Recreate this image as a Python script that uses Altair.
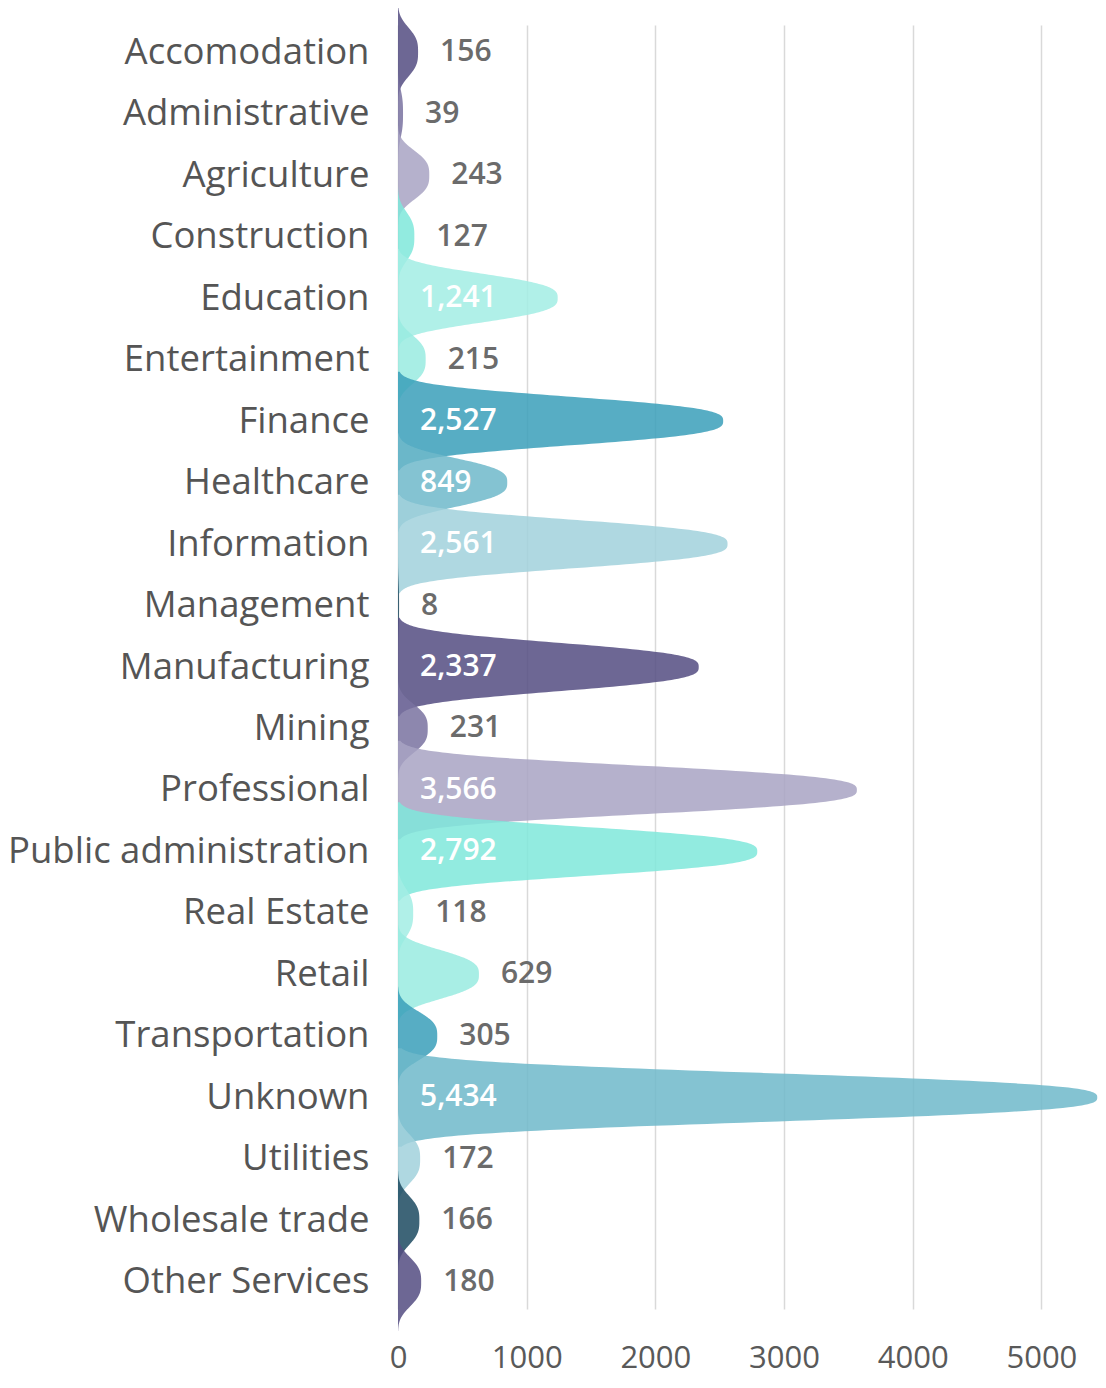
import json
import altair as alt
import pandas as pd

categories = [
    "Accomodation", "Administrative", "Agriculture", "Construction", "Education",
    "Entertainment", "Finance", "Healthcare", "Information", "Management",
    "Manufacturing", "Mining", "Professional", "Public administration", "Real Estate",
    "Retail", "Transportation", "Unknown", "Utilities", "Wholesale trade", "Other Services",
]
values = [156, 39, 243, 127, 1241, 215, 2527, 849, 2561, 8,
          2337, 231, 3566, 2792, 118, 629, 305, 5434, 172, 166, 180]
palette = ["#544c81", "#7972a0", "#a8a3c3", "#7fe7da", "#a2ede4",
           "#99ebe1", "#399fba", "#6eb8ca", "#a1d1dc", "#1c4a60"]
colors = [palette[i % len(palette)] for i in range(len(categories))]
x_ticks = [0, 1000, 2000, 3000, 4000, 5000]

df = pd.DataFrame({"category": categories, "value": values,
                   "idx": list(range(len(categories)))})

FONT = "Open Sans"
n = len(categories)
x_scale = alt.Scale(domain=[0, 5440], nice=False, zero=True)
y_scale = alt.Scale(domain=[-0.44, n - 1 + 0.44], reverse=True, nice=False, zero=False)

x_axis = alt.Axis(values=x_ticks, title=None, grid=True, gridColor="#d9d9d9", gridWidth=1.5,
                  domain=False, ticks=False, labelFont=FONT, labelFontSize=31,
                  labelColor="#595959", labelPadding=34, labelFlush=False, format="d")
y_axis = alt.Axis(values=list(range(n)), labelExpr=json.dumps(categories) + "[datum.value]",
                  title=None, grid=False, domain=False, ticks=False, labelFont=FONT,
                  labelFontSize=36.5, labelColor="#555555", labelPadding=29, labelOverlap=False,
                  labelLimit=420, labelBaseline="middle")

area = alt.Chart(df).transform_calculate(
    t="sequence(-0.8, 0.8001, 0.01)"
).transform_flatten(["t"]).transform_calculate(
    xx="datum.value * exp(-pow(abs(datum.t) / 0.46, 3))",
    yy="datum.idx + datum.t",
).mark_area(orient="horizontal", opacity=0.85).encode(
    x=alt.X("xx:Q", stack=None, scale=x_scale, axis=x_axis),
    y=alt.Y("yy:Q", scale=y_scale, axis=y_axis),
    color=alt.Color("category:N", scale=alt.Scale(domain=categories, range=colors), legend=None),
)

base_text = alt.Chart(df).transform_calculate(
    labx="datum.value >= 800 ? 0 : datum.value"
)
inside = base_text.transform_filter("datum.value >= 800").mark_text(
    align="left", baseline="middle", dx=22, font=FONT, fontSize=30, fontWeight=600, color="white"
).encode(
    x=alt.X("labx:Q", scale=x_scale),
    y=alt.Y("idx:Q", scale=y_scale),
    text=alt.Text("value:Q", format=","),
)
outside = base_text.transform_filter("datum.value < 800").mark_text(
    align="left", baseline="middle", dx=22, font=FONT, fontSize=30, fontWeight=600, color="#6b6b6b"
).encode(
    x=alt.X("labx:Q", scale=x_scale),
    y=alt.Y("idx:Q", scale=y_scale),
    text=alt.Text("value:Q", format=","),
)

chart = alt.layer(area, inside, outside).properties(
    width=700, height=1284,
    autosize=alt.AutoSizeParams(type="none"),
    padding={"left": 390, "top": 17, "right": 0, "bottom": 70},
).configure_view(stroke=None)

chart.save("out.html", embed_options={"renderer": "svg", "actions": False})
